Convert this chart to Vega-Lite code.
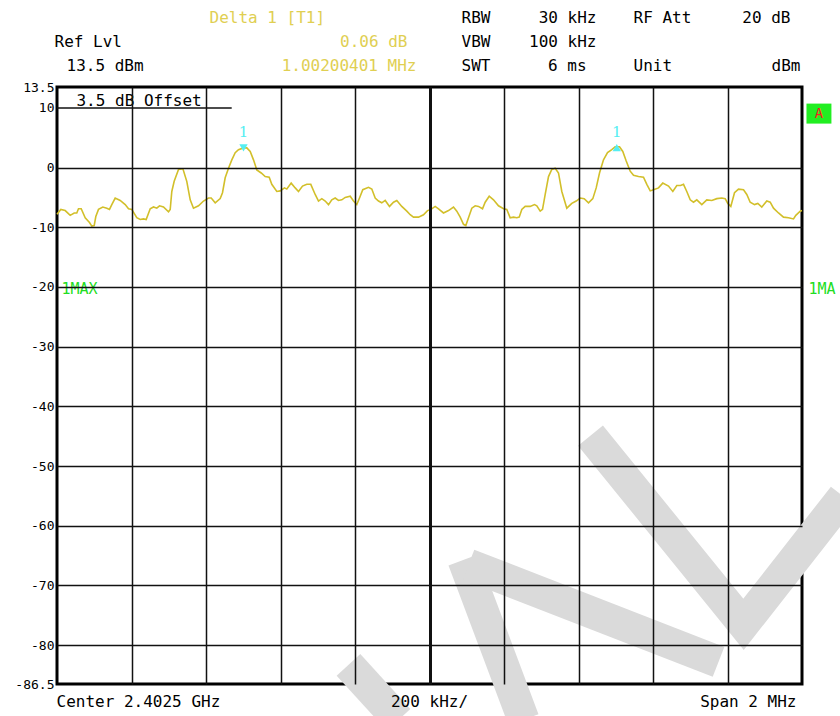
{
  "$schema": "https://vega.github.io/schema/vega-lite/v6.json",
  "width": 745,
  "height": 597,
  "autosize": {"type": "none"},
  "padding": {"left": 57, "top": 87, "right": 38, "bottom": 32},
  "background": "white",
  "config": {
    "view": {"stroke": "#000000", "strokeWidth": 3},
    "font": "DejaVu Sans Mono",
    "text": {"font": "DejaVu Sans Mono"}
  },
  "datasets": {
    "trace": [
      {"offset_kHz": -1000, "level_dBm": -7.8}, {"offset_kHz": -989.8, "level_dBm": -7.0}, {"offset_kHz": -978, "level_dBm": -7.2},
      {"offset_kHz": -964.6, "level_dBm": -8.0}, {"offset_kHz": -953.8, "level_dBm": -7.6}, {"offset_kHz": -946.9, "level_dBm": -7.6},
      {"offset_kHz": -942.3, "level_dBm": -6.9}, {"offset_kHz": -935, "level_dBm": -6.9}, {"offset_kHz": -924.3, "level_dBm": -8.4},
      {"offset_kHz": -912.8, "level_dBm": -9.2}, {"offset_kHz": -906.6, "level_dBm": -9.8}, {"offset_kHz": -900.1, "level_dBm": -9.7},
      {"offset_kHz": -895.8, "level_dBm": -8.2}, {"offset_kHz": -888.6, "level_dBm": -7.0}, {"offset_kHz": -877, "level_dBm": -6.6},
      {"offset_kHz": -866.3, "level_dBm": -6.8}, {"offset_kHz": -859.1, "level_dBm": -7.0}, {"offset_kHz": -852.9, "level_dBm": -6.2},
      {"offset_kHz": -843.8, "level_dBm": -5.1}, {"offset_kHz": -830.4, "level_dBm": -5.5}, {"offset_kHz": -816.9, "level_dBm": -6.2},
      {"offset_kHz": -808, "level_dBm": -6.9}, {"offset_kHz": -799.2, "level_dBm": -7.0}, {"offset_kHz": -785.8, "level_dBm": -8.4},
      {"offset_kHz": -776.7, "level_dBm": -8.7}, {"offset_kHz": -767.8, "level_dBm": -8.6}, {"offset_kHz": -760.6, "level_dBm": -8.7},
      {"offset_kHz": -749.8, "level_dBm": -6.9}, {"offset_kHz": -740.9, "level_dBm": -6.6}, {"offset_kHz": -732.1, "level_dBm": -6.8},
      {"offset_kHz": -724.8, "level_dBm": -6.4}, {"offset_kHz": -714.1, "level_dBm": -6.6}, {"offset_kHz": -700.7, "level_dBm": -7.4},
      {"offset_kHz": -696.1, "level_dBm": -7.0}, {"offset_kHz": -691.8, "level_dBm": -4.0}, {"offset_kHz": -685.4, "level_dBm": -2.3},
      {"offset_kHz": -673.8, "level_dBm": -0.3}, {"offset_kHz": -662, "level_dBm": -0.2}, {"offset_kHz": -651.6, "level_dBm": -2.3},
      {"offset_kHz": -642.4, "level_dBm": -5.4}, {"offset_kHz": -633.6, "level_dBm": -6.8}, {"offset_kHz": -620.1, "level_dBm": -6.4},
      {"offset_kHz": -606.7, "level_dBm": -5.6}, {"offset_kHz": -593.3, "level_dBm": -5.1}, {"offset_kHz": -586, "level_dBm": -5.1},
      {"offset_kHz": -575.3, "level_dBm": -5.9}, {"offset_kHz": -561.9, "level_dBm": -5.2}, {"offset_kHz": -555.7, "level_dBm": -4.2},
      {"offset_kHz": -548.5, "level_dBm": -1.7}, {"offset_kHz": -539.6, "level_dBm": -0.1}, {"offset_kHz": -530.7, "level_dBm": 1.3},
      {"offset_kHz": -521.6, "level_dBm": 2.5}, {"offset_kHz": -512.8, "level_dBm": 3.0}, {"offset_kHz": -499.3, "level_dBm": 3.3},
      {"offset_kHz": -490.5, "level_dBm": 3.3}, {"offset_kHz": -481.3, "level_dBm": 2.7}, {"offset_kHz": -472.5, "level_dBm": 1.3},
      {"offset_kHz": -463.6, "level_dBm": -0.4}, {"offset_kHz": -451.8, "level_dBm": -0.9}, {"offset_kHz": -441.1, "level_dBm": -1.5},
      {"offset_kHz": -430.3, "level_dBm": -1.6}, {"offset_kHz": -423.4, "level_dBm": -2.8}, {"offset_kHz": -409.9, "level_dBm": -4.0},
      {"offset_kHz": -400.8, "level_dBm": -3.9}, {"offset_kHz": -389.3, "level_dBm": -3.4}, {"offset_kHz": -383.1, "level_dBm": -3.6},
      {"offset_kHz": -371.3, "level_dBm": -2.6}, {"offset_kHz": -360.5, "level_dBm": -3.4}, {"offset_kHz": -351.7, "level_dBm": -4.0},
      {"offset_kHz": -340.9, "level_dBm": -3.1}, {"offset_kHz": -329.4, "level_dBm": -2.8}, {"offset_kHz": -318.7, "level_dBm": -2.8},
      {"offset_kHz": -306.9, "level_dBm": -4.5}, {"offset_kHz": -298, "level_dBm": -5.6}, {"offset_kHz": -289.1, "level_dBm": -5.2},
      {"offset_kHz": -280, "level_dBm": -5.6}, {"offset_kHz": -271.1, "level_dBm": -6.2}, {"offset_kHz": -262.3, "level_dBm": -5.4},
      {"offset_kHz": -253.2, "level_dBm": -5.1}, {"offset_kHz": -244.3, "level_dBm": -5.5}, {"offset_kHz": -235.4, "level_dBm": -5.4},
      {"offset_kHz": -226.3, "level_dBm": -5.0}, {"offset_kHz": -212.9, "level_dBm": -4.8}, {"offset_kHz": -204, "level_dBm": -5.6},
      {"offset_kHz": -195.2, "level_dBm": -6.2}, {"offset_kHz": -187.9, "level_dBm": -5.1}, {"offset_kHz": -179.1, "level_dBm": -3.7},
      {"offset_kHz": -163.8, "level_dBm": -3.3}, {"offset_kHz": -154.9, "level_dBm": -3.6}, {"offset_kHz": -145.8, "level_dBm": -5.1},
      {"offset_kHz": -136.9, "level_dBm": -5.6}, {"offset_kHz": -128.1, "level_dBm": -5.9}, {"offset_kHz": -118.9, "level_dBm": -5.5},
      {"offset_kHz": -107.4, "level_dBm": -6.5}, {"offset_kHz": -96.6, "level_dBm": -5.8}, {"offset_kHz": -87.8, "level_dBm": -5.5},
      {"offset_kHz": -74.4, "level_dBm": -6.5}, {"offset_kHz": -60.9, "level_dBm": -7.3}, {"offset_kHz": -51.8, "level_dBm": -7.9},
      {"offset_kHz": -43, "level_dBm": -8.3}, {"offset_kHz": -29.5, "level_dBm": -8.3}, {"offset_kHz": -16.1, "level_dBm": -7.9},
      {"offset_kHz": -5.4, "level_dBm": -7.2}, {"offset_kHz": 4, "level_dBm": -7.0}, {"offset_kHz": 15.3, "level_dBm": -6.5},
      {"offset_kHz": 24.2, "level_dBm": -6.9}, {"offset_kHz": 37.6, "level_dBm": -7.6}, {"offset_kHz": 51, "level_dBm": -7.2},
      {"offset_kHz": 64.4, "level_dBm": -6.6}, {"offset_kHz": 73.3, "level_dBm": -7.3}, {"offset_kHz": 82.4, "level_dBm": -8.3},
      {"offset_kHz": 91.3, "level_dBm": -9.5}, {"offset_kHz": 97.5, "level_dBm": -9.7}, {"offset_kHz": 104.7, "level_dBm": -8.4},
      {"offset_kHz": 113.6, "level_dBm": -6.8}, {"offset_kHz": 122.7, "level_dBm": -6.4}, {"offset_kHz": 131.5, "level_dBm": -6.5},
      {"offset_kHz": 142.3, "level_dBm": -6.9}, {"offset_kHz": 149.5, "level_dBm": -5.8}, {"offset_kHz": 160.3, "level_dBm": -4.8},
      {"offset_kHz": 171.8, "level_dBm": -5.4}, {"offset_kHz": 185.2, "level_dBm": -6.4}, {"offset_kHz": 198.7, "level_dBm": -6.9},
      {"offset_kHz": 207.5, "level_dBm": -7.0}, {"offset_kHz": 216.6, "level_dBm": -8.4}, {"offset_kHz": 225.5, "level_dBm": -8.3},
      {"offset_kHz": 234.4, "level_dBm": -8.4}, {"offset_kHz": 240.8, "level_dBm": -8.3}, {"offset_kHz": 247.8, "level_dBm": -7.0},
      {"offset_kHz": 256.9, "level_dBm": -6.5}, {"offset_kHz": 270.3, "level_dBm": -6.5}, {"offset_kHz": 281.9, "level_dBm": -6.2},
      {"offset_kHz": 288.1, "level_dBm": -6.4}, {"offset_kHz": 297.2, "level_dBm": -7.3}, {"offset_kHz": 303.4, "level_dBm": -7.0},
      {"offset_kHz": 310.6, "level_dBm": -4.5}, {"offset_kHz": 319.5, "level_dBm": -1.5}, {"offset_kHz": 328.3, "level_dBm": -0.3},
      {"offset_kHz": 337.4, "level_dBm": -0.1}, {"offset_kHz": 346.3, "level_dBm": -0.9}, {"offset_kHz": 355.2, "level_dBm": -4.0},
      {"offset_kHz": 368.6, "level_dBm": -6.8}, {"offset_kHz": 382, "level_dBm": -6.0}, {"offset_kHz": 393.8, "level_dBm": -5.6},
      {"offset_kHz": 404.6, "level_dBm": -5.1}, {"offset_kHz": 415.3, "level_dBm": -5.2}, {"offset_kHz": 426.9, "level_dBm": -5.9},
      {"offset_kHz": 438.4, "level_dBm": -5.2}, {"offset_kHz": 447.5, "level_dBm": -3.4}, {"offset_kHz": 456.4, "level_dBm": -0.9},
      {"offset_kHz": 467.1, "level_dBm": 1.3}, {"offset_kHz": 477.9, "level_dBm": 2.5}, {"offset_kHz": 489.4, "level_dBm": 3.0},
      {"offset_kHz": 498.5, "level_dBm": 3.5}, {"offset_kHz": 510.1, "level_dBm": 3.5}, {"offset_kHz": 518.9, "level_dBm": 2.7},
      {"offset_kHz": 528.1, "level_dBm": 1.1}, {"offset_kHz": 538.8, "level_dBm": -0.6}, {"offset_kHz": 547.7, "level_dBm": -1.3},
      {"offset_kHz": 561.1, "level_dBm": -1.5}, {"offset_kHz": 574.5, "level_dBm": -1.6}, {"offset_kHz": 583.4, "level_dBm": -2.8},
      {"offset_kHz": 592.5, "level_dBm": -3.9}, {"offset_kHz": 601.4, "level_dBm": -3.7}, {"offset_kHz": 614.8, "level_dBm": -3.4},
      {"offset_kHz": 626.3, "level_dBm": -2.6}, {"offset_kHz": 641.6, "level_dBm": -3.1}, {"offset_kHz": 653.2, "level_dBm": -4.0},
      {"offset_kHz": 663.9, "level_dBm": -3.0}, {"offset_kHz": 674, "level_dBm": -3.0}, {"offset_kHz": 681.9, "level_dBm": -2.8},
      {"offset_kHz": 690.7, "level_dBm": -4.0}, {"offset_kHz": 699.9, "level_dBm": -5.4}, {"offset_kHz": 708.7, "level_dBm": -5.8},
      {"offset_kHz": 717.6, "level_dBm": -5.4}, {"offset_kHz": 731, "level_dBm": -6.2}, {"offset_kHz": 744.4, "level_dBm": -5.4},
      {"offset_kHz": 757.9, "level_dBm": -5.5}, {"offset_kHz": 771.3, "level_dBm": -5.2}, {"offset_kHz": 784.7, "level_dBm": -5.1},
      {"offset_kHz": 793.8, "level_dBm": -5.2}, {"offset_kHz": 800.8, "level_dBm": -6.0}, {"offset_kHz": 808.9, "level_dBm": -6.5},
      {"offset_kHz": 818.8, "level_dBm": -4.2}, {"offset_kHz": 829.5, "level_dBm": -3.6}, {"offset_kHz": 843, "level_dBm": -3.7},
      {"offset_kHz": 851.8, "level_dBm": -4.5}, {"offset_kHz": 860.9, "level_dBm": -5.8}, {"offset_kHz": 872.5, "level_dBm": -6.2},
      {"offset_kHz": 881.4, "level_dBm": -6.0}, {"offset_kHz": 892.1, "level_dBm": -6.6}, {"offset_kHz": 905.5, "level_dBm": -5.6},
      {"offset_kHz": 914.6, "level_dBm": -5.8}, {"offset_kHz": 923.5, "level_dBm": -6.8}, {"offset_kHz": 936.9, "level_dBm": -7.6},
      {"offset_kHz": 950.3, "level_dBm": -8.3}, {"offset_kHz": 963.8, "level_dBm": -8.4}, {"offset_kHz": 977.2, "level_dBm": -8.6},
      {"offset_kHz": 983.4, "level_dBm": -8.0}, {"offset_kHz": 995.2, "level_dBm": -7.3}, {"offset_kHz": 1000, "level_dBm": -7.2}
    ],
    "markers": [
      {"marker": "1", "kind": "marker", "offset_kHz": -499.3, "level_dBm": 3.3},
      {"marker": "1", "kind": "delta", "offset_kHz": 502.8, "level_dBm": 3.36}
    ],
    "watermark": [
      {"band": "A", "seq": 1, "offset_kHz": 432.2, "level_dBm": -44.9},
      {"band": "A", "seq": 2, "offset_kHz": 843.0, "level_dBm": -76.5},
      {"band": "A", "seq": 3, "offset_kHz": 1111.4, "level_dBm": -55.1},
      {"band": "B", "seq": 1, "offset_kHz": 91.3, "level_dBm": -65.7},
      {"band": "B", "seq": 2, "offset_kHz": 252.4, "level_dBm": -92.5},
      {"band": "C", "seq": 1, "offset_kHz": 104.7, "level_dBm": -66.5},
      {"band": "C", "seq": 2, "offset_kHz": 775.9, "level_dBm": -82.8},
      {"band": "D", "seq": 1, "offset_kHz": -217.5, "level_dBm": -83.3},
      {"band": "D", "seq": 2, "offset_kHz": -83.2, "level_dBm": -92.5}
    ]
  },
  "layer": [
    {
      "data": {"name": "watermark"},
      "mark": {"type": "line", "stroke": "#dadada", "strokeWidth": 32, "strokeCap": "butt", "strokeJoin": "miter", "clip": false},
      "encoding": {
        "x": {"field": "offset_kHz", "type": "quantitative", "scale": {"domain": [-1000, 1000], "nice": false, "zero": false},
          "axis": {"values": [-800, -600, -400, -200, 0, 200, 400, 600, 800], "labels": false, "ticks": false, "domain": false, "title": null,
            "grid": true, "gridColor": "#111111", "gridWidth": {"condition": {"test": "datum.value == 0", "value": 3}, "value": 1.5}, "zindex": 1}},
        "y": {"field": "level_dBm", "type": "quantitative", "scale": {"domain": [-86.5, 13.5], "nice": false, "zero": false},
          "axis": {"values": [13.5, 10, 0, -10, -20, -30, -40, -50, -60, -70, -80, -86.5], "labelExpr": "'' + datum.value",
            "labelFont": "DejaVu Sans Mono", "labelFontSize": 13, "labelColor": "#000000", "labelPadding": 3, "labelOverlap": false, "labelFlush": false,
            "ticks": false, "domain": false, "title": null, "grid": true, "gridColor": "#111111", "gridWidth": 1.5,
            "gridOpacity": {"condition": {"test": "datum.value == 10 || datum.value == 13.5 || datum.value == -86.5", "value": 0}, "value": 1}, "zindex": 1}},
        "detail": {"field": "band", "type": "nominal"},
        "order": {"field": "seq", "type": "quantitative"}
      }
    },
    {
      "data": {"name": "trace"},
      "mark": {"type": "line", "stroke": "#d2bf2a", "strokeWidth": 1.6, "interpolate": "linear"},
      "encoding": {
        "x": {"field": "offset_kHz", "type": "quantitative"},
        "y": {"field": "level_dBm", "type": "quantitative"}
      }
    },
    {
      "data": {"name": "markers"},
      "mark": {"type": "point", "filled": true, "size": 70, "color": "#55eef2", "opacity": 1},
      "encoding": {
        "x": {"field": "offset_kHz", "type": "quantitative"},
        "y": {"field": "level_dBm", "type": "quantitative"},
        "shape": {"field": "kind", "type": "nominal", "scale": {"domain": ["marker", "delta"], "range": ["triangle-down", "triangle-up"]}, "legend": null},
        "yOffset": {"field": "kind", "type": "nominal", "scale": {"domain": ["marker", "delta"], "range": [-4, 6]}}
      }
    },
    {
      "data": {"name": "markers"},
      "mark": {"type": "text", "font": "DejaVu Serif", "fontSize": 15, "color": "#55eef2", "baseline": "middle", "dy": -16},
      "encoding": {
        "x": {"field": "offset_kHz", "type": "quantitative"},
        "y": {"field": "level_dBm", "type": "quantitative"},
        "text": {"field": "marker"}
      }
    },
    {
      "data": {"values": [{}]},
      "mark": {"type": "rule", "stroke": "#111111", "strokeWidth": 1.5},
      "encoding": {"x": {"datum": -1000, "type": "quantitative"}, "x2": {"datum": -531}, "y": {"datum": 10, "type": "quantitative"}}
    },
    {
      "data": {"values": [{}]},
      "mark": {"type": "text", "align": "left", "baseline": "alphabetic", "fontSize": 16, "color": "#000000"},
      "encoding": {"x": {"datum": -947.7, "type": "quantitative"}, "y": {"datum": 10.39, "type": "quantitative"}, "text": {"value": "3.5 dB Offset"}}
    },
    {
      "data": {"values": [{}]},
      "mark": {"type": "text", "align": "left", "baseline": "alphabetic", "fontSize": 16, "color": "#e0cf52"},
      "encoding": {"x": {"datum": -590.6, "type": "quantitative"}, "y": {"datum": 24.29, "type": "quantitative"}, "text": {"value": "Delta 1 [T1]"}}
    },
    {
      "data": {"values": [{}]},
      "mark": {"type": "text", "align": "left", "baseline": "alphabetic", "fontSize": 16, "color": "#000000"},
      "encoding": {"x": {"datum": -1006.7, "type": "quantitative"}, "y": {"datum": 20.27, "type": "quantitative"}, "text": {"value": "Ref Lvl"}}
    },
    {
      "data": {"values": [{}]},
      "mark": {"type": "text", "align": "right", "baseline": "alphabetic", "fontSize": 16, "color": "#e0cf52"},
      "encoding": {"x": {"datum": -59.1, "type": "quantitative"}, "y": {"datum": 20.27, "type": "quantitative"}, "text": {"value": "0.06 dB"}}
    },
    {
      "data": {"values": [{}]},
      "mark": {"type": "text", "align": "left", "baseline": "alphabetic", "fontSize": 16, "color": "#000000"},
      "encoding": {"x": {"datum": -974.5, "type": "quantitative"}, "y": {"datum": 16.25, "type": "quantitative"}, "text": {"value": "13.5 dBm"}}
    },
    {
      "data": {"values": [{}]},
      "mark": {"type": "text", "align": "right", "baseline": "alphabetic", "fontSize": 16, "color": "#e0cf52"},
      "encoding": {"x": {"datum": -34.9, "type": "quantitative"}, "y": {"datum": 16.25, "type": "quantitative"}, "text": {"value": "1.00200401 MHz"}}
    },
    {
      "data": {"values": [{}]},
      "mark": {"type": "text", "align": "left", "baseline": "alphabetic", "fontSize": 16, "color": "#000000"},
      "encoding": {"x": {"datum": 85.9, "type": "quantitative"}, "y": {"datum": 24.29, "type": "quantitative"}, "text": {"value": "RBW"}}
    },
    {
      "data": {"values": [{}]},
      "mark": {"type": "text", "align": "right", "baseline": "alphabetic", "fontSize": 16, "color": "#000000"},
      "encoding": {"x": {"datum": 448.3, "type": "quantitative"}, "y": {"datum": 24.29, "type": "quantitative"}, "text": {"value": "30 kHz"}}
    },
    {
      "data": {"values": [{}]},
      "mark": {"type": "text", "align": "left", "baseline": "alphabetic", "fontSize": 16, "color": "#000000"},
      "encoding": {"x": {"datum": 547.7, "type": "quantitative"}, "y": {"datum": 24.29, "type": "quantitative"}, "text": {"value": "RF Att"}}
    },
    {
      "data": {"values": [{}]},
      "mark": {"type": "text", "align": "right", "baseline": "alphabetic", "fontSize": 16, "color": "#000000"},
      "encoding": {"x": {"datum": 969.1, "type": "quantitative"}, "y": {"datum": 24.29, "type": "quantitative"}, "text": {"value": "20 dB"}}
    },
    {
      "data": {"values": [{}]},
      "mark": {"type": "text", "align": "left", "baseline": "alphabetic", "fontSize": 16, "color": "#000000"},
      "encoding": {"x": {"datum": 85.9, "type": "quantitative"}, "y": {"datum": 20.27, "type": "quantitative"}, "text": {"value": "VBW"}}
    },
    {
      "data": {"values": [{}]},
      "mark": {"type": "text", "align": "right", "baseline": "alphabetic", "fontSize": 16, "color": "#000000"},
      "encoding": {"x": {"datum": 448.3, "type": "quantitative"}, "y": {"datum": 20.27, "type": "quantitative"}, "text": {"value": "100 kHz"}}
    },
    {
      "data": {"values": [{}]},
      "mark": {"type": "text", "align": "left", "baseline": "alphabetic", "fontSize": 16, "color": "#000000"},
      "encoding": {"x": {"datum": 85.9, "type": "quantitative"}, "y": {"datum": 16.25, "type": "quantitative"}, "text": {"value": "SWT"}}
    },
    {
      "data": {"values": [{}]},
      "mark": {"type": "text", "align": "right", "baseline": "alphabetic", "fontSize": 16, "color": "#000000"},
      "encoding": {"x": {"datum": 421.5, "type": "quantitative"}, "y": {"datum": 16.25, "type": "quantitative"}, "text": {"value": "6 ms"}}
    },
    {
      "data": {"values": [{}]},
      "mark": {"type": "text", "align": "left", "baseline": "alphabetic", "fontSize": 16, "color": "#000000"},
      "encoding": {"x": {"datum": 547.7, "type": "quantitative"}, "y": {"datum": 16.25, "type": "quantitative"}, "text": {"value": "Unit"}}
    },
    {
      "data": {"values": [{}]},
      "mark": {"type": "text", "align": "right", "baseline": "alphabetic", "fontSize": 16, "color": "#000000"},
      "encoding": {"x": {"datum": 996, "type": "quantitative"}, "y": {"datum": 16.25, "type": "quantitative"}, "text": {"value": "dBm"}}
    },
    {
      "data": {"values": [{}]},
      "mark": {"type": "text", "align": "left", "baseline": "alphabetic", "fontSize": 15, "color": "#22dd22"},
      "encoding": {"x": {"datum": -987.9, "type": "quantitative"}, "y": {"datum": -21.1, "type": "quantitative"}, "text": {"value": "1MAX"}}
    },
    {
      "data": {"values": [{}]},
      "mark": {"type": "text", "align": "left", "baseline": "alphabetic", "fontSize": 15, "color": "#22dd22"},
      "encoding": {"x": {"datum": 1017.4, "type": "quantitative"}, "y": {"datum": -21.1, "type": "quantitative"}, "text": {"value": "1MA"}}
    },
    {
      "data": {"values": [{}]},
      "mark": {"type": "rect", "color": "#22ee22", "clip": false},
      "encoding": {"x": {"datum": 1012, "type": "quantitative"}, "x2": {"datum": 1079}, "y": {"datum": 10.72, "type": "quantitative"}, "y2": {"datum": 7.37}}
    },
    {
      "data": {"values": [{}]},
      "mark": {"type": "text", "align": "center", "baseline": "middle", "fontSize": 14, "color": "#ff2020"},
      "encoding": {"x": {"datum": 1045.7, "type": "quantitative"}, "y": {"datum": 9.05, "type": "quantitative"}, "text": {"value": "A"}}
    },
    {
      "data": {"values": [{}]},
      "mark": {"type": "text", "align": "left", "baseline": "alphabetic", "fontSize": 16, "color": "#000000"},
      "encoding": {"x": {"datum": -1001.3, "type": "quantitative"}, "y": {"datum": -90.28, "type": "quantitative"}, "text": {"value": "Center 2.4025 GHz"}}
    },
    {
      "data": {"values": [{}]},
      "mark": {"type": "text", "align": "center", "baseline": "alphabetic", "fontSize": 16, "color": "#000000"},
      "encoding": {"x": {"datum": 0, "type": "quantitative"}, "y": {"datum": -90.28, "type": "quantitative"}, "text": {"value": "200 kHz/"}}
    },
    {
      "data": {"values": [{}]},
      "mark": {"type": "text", "align": "right", "baseline": "alphabetic", "fontSize": 16, "color": "#000000"},
      "encoding": {"x": {"datum": 985.2, "type": "quantitative"}, "y": {"datum": -90.28, "type": "quantitative"}, "text": {"value": "Span 2 MHz"}}
    }
  ]
}
